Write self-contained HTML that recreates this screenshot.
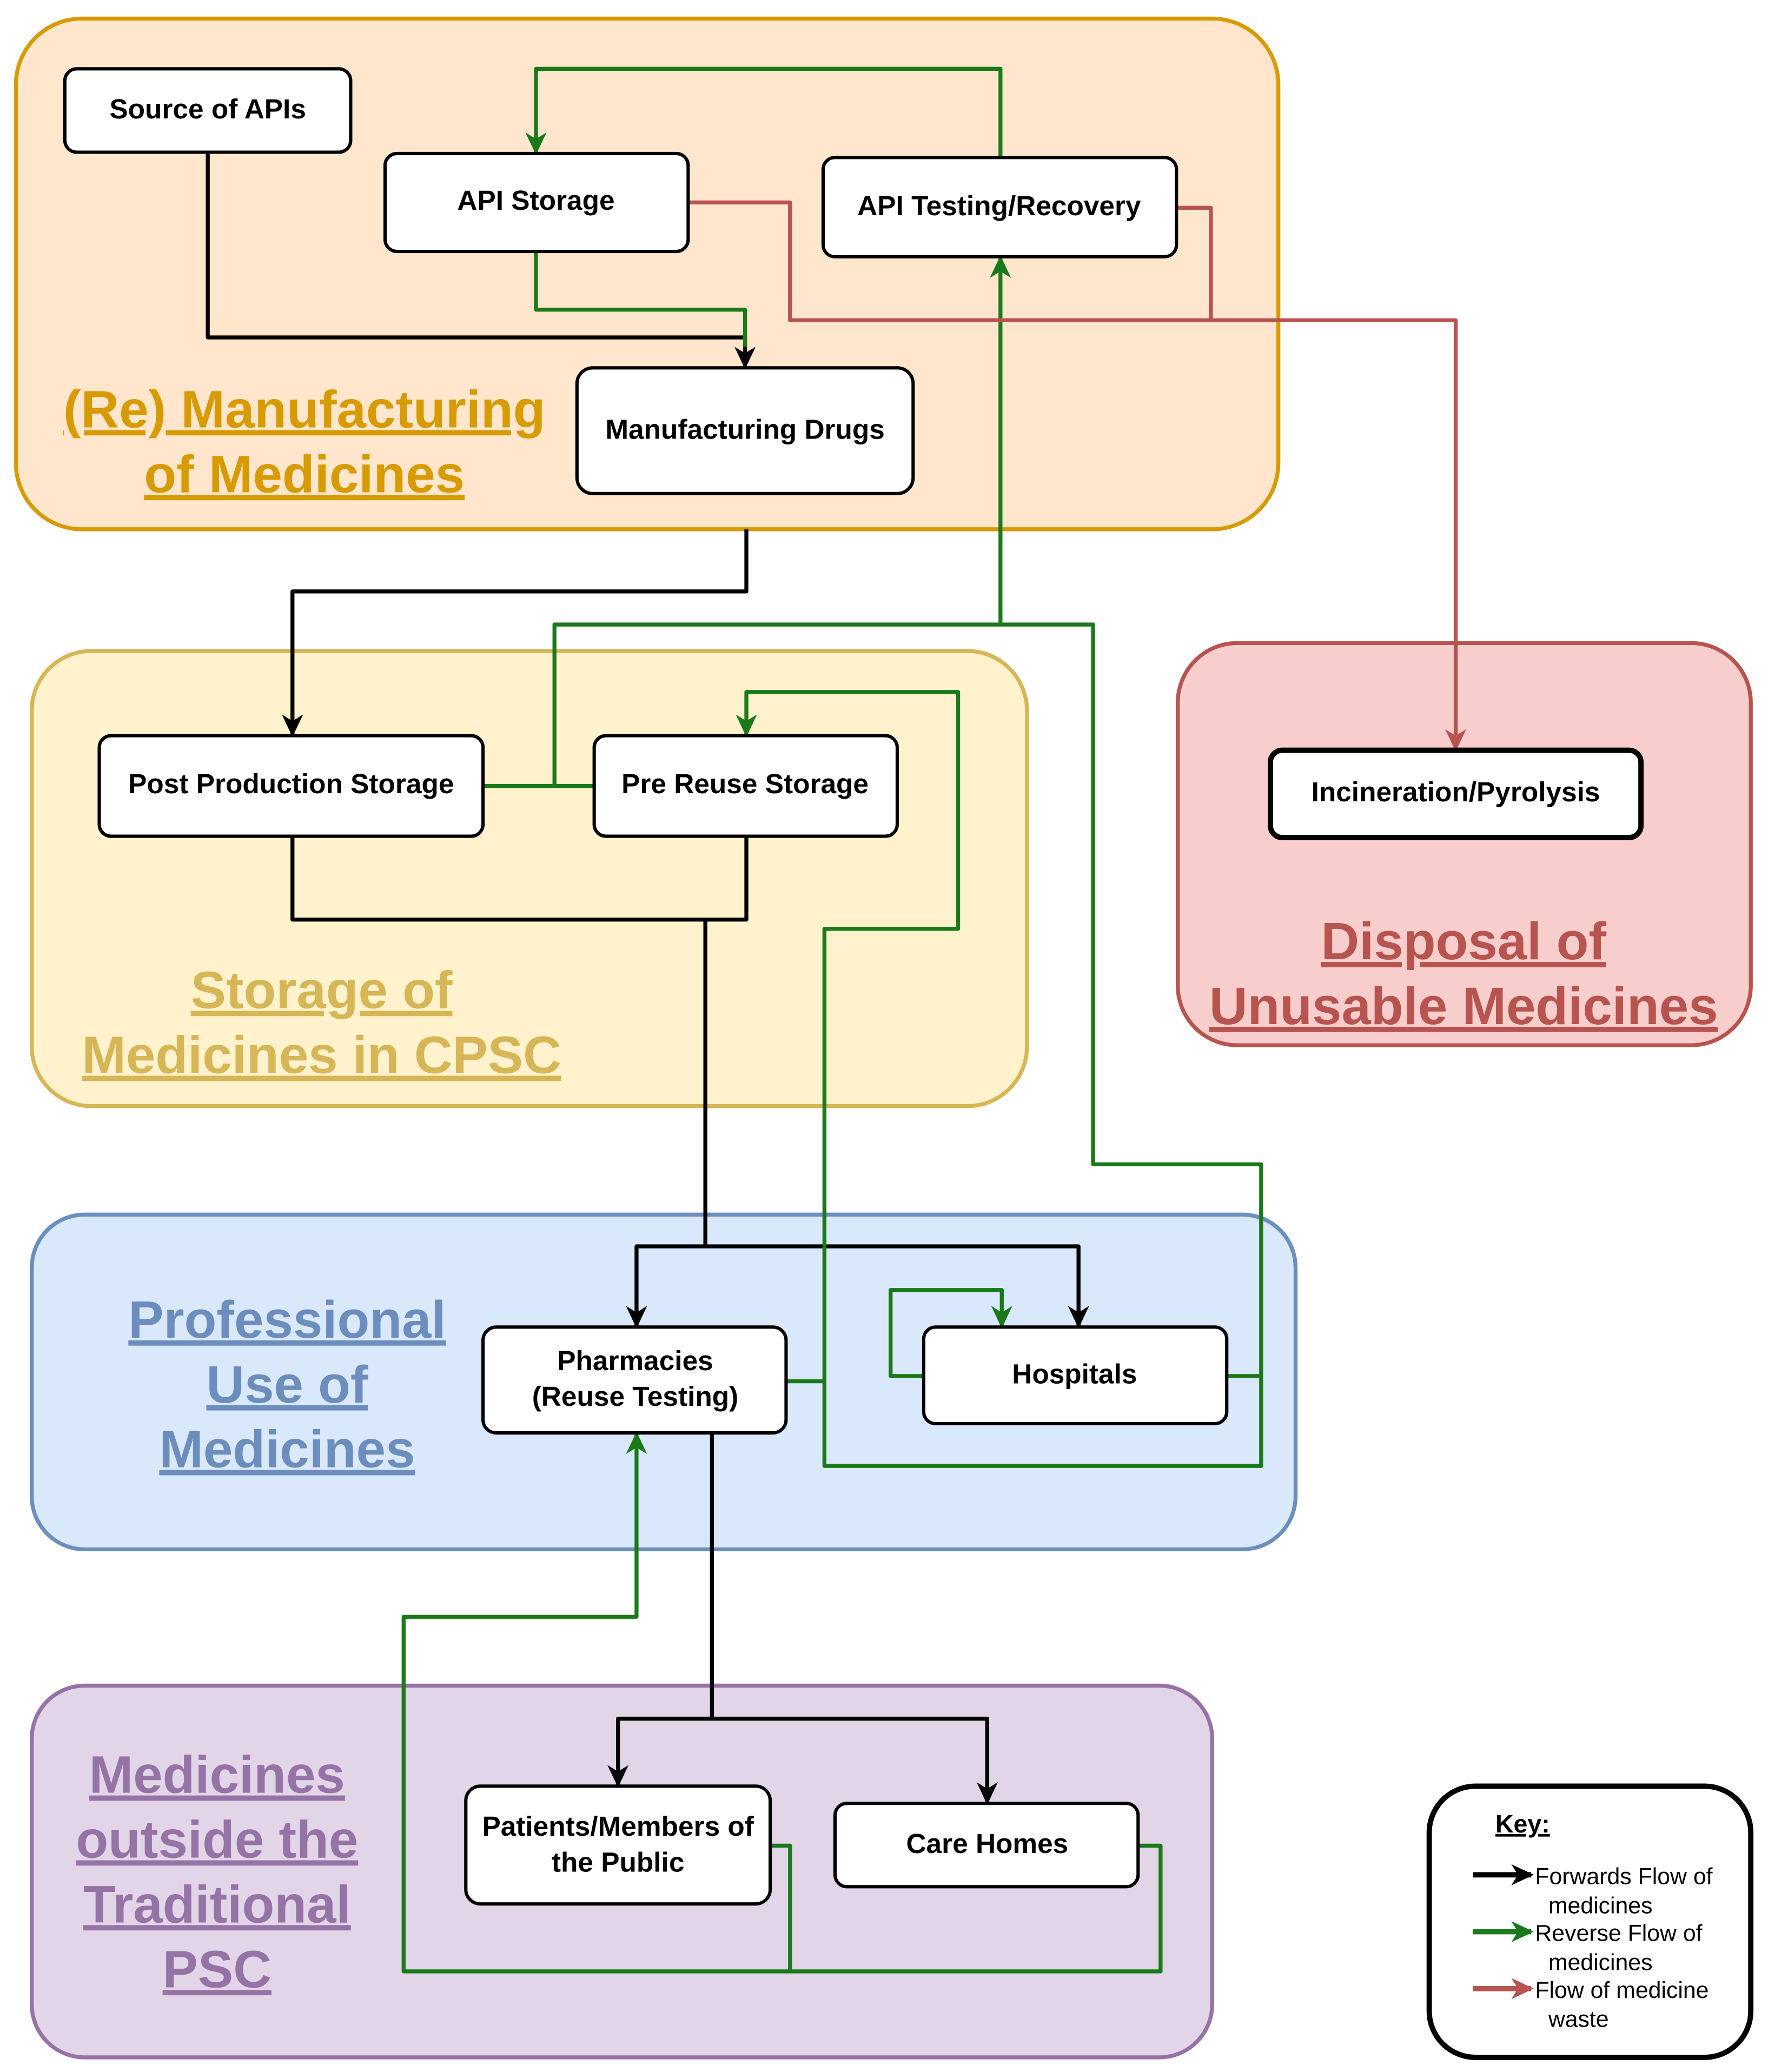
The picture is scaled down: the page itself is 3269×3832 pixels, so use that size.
<!DOCTYPE html>
<html><head><meta charset="utf-8"><style>
html,body{margin:0;padding:0;background:#fff}
svg{display:block}
text{font-family:"Liberation Sans",Arial,sans-serif}
.n{font-weight:bold;font-size:21px;text-anchor:middle;dominant-baseline:middle}
.t{font-weight:bold;font-size:40px;text-anchor:middle;text-decoration:underline}
.k{font-size:17.5px}
</style></head><body>
<svg width="3269" height="3832" viewBox="0 0 1336 1566" xmlns="http://www.w3.org/2000/svg">
<defs>
<marker id="ab" markerWidth="18" markerHeight="18" refX="15" refY="9" orient="auto" markerUnits="userSpaceOnUse" viewBox="0 0 18 18"><path d="M0,1 L17,9 L0,17 L5,9 z" fill="#000"/></marker>
<marker id="ag" markerWidth="18" markerHeight="18" refX="15" refY="9" orient="auto" markerUnits="userSpaceOnUse" viewBox="0 0 18 18"><path d="M0,1 L17,9 L0,17 L5,9 z" fill="#1a7a1a"/></marker>
<marker id="ar" markerWidth="18" markerHeight="18" refX="15" refY="9" orient="auto" markerUnits="userSpaceOnUse" viewBox="0 0 18 18"><path d="M0,1 L17,9 L0,17 L5,9 z" fill="#b85450"/></marker>
</defs>
<g stroke-width="3">
<rect x="12" y="14" width="954" height="386" rx="50" fill="#ffe6cc" stroke="#d79b00"/>
<rect x="24" y="492" width="752" height="344" rx="45" fill="#fff2cc" stroke="#d6b656"/>
<rect x="890" y="486" width="433" height="304" rx="45" fill="#f8cecc" stroke="#b85450"/>
<rect x="24" y="918" width="955" height="253" rx="40" fill="#dae8fc" stroke="#6c8ebf"/>
<rect x="24" y="1274" width="892" height="281" rx="40" fill="#e1d5e7" stroke="#9673a6"/>
<rect x="1080" y="1350" width="243" height="205" rx="35" fill="#fff" stroke="#000" stroke-width="4"/>
</g>
<text x="230" y="323" fill="#d79b00" class="t">(Re) Manufacturing</text>
<text x="230" y="372" fill="#d79b00" class="t">of Medicines</text>
<text x="243" y="762" fill="#d6b656" class="t">Storage of </text>
<text x="243" y="811" fill="#d6b656" class="t">Medicines in CPSC</text>
<text x="1106" y="725" fill="#b85450" class="t">Disposal of</text>
<text x="1106" y="774" fill="#b85450" class="t">Unusable Medicines</text>
<text x="217" y="1011" fill="#6c8ebf" class="t">Professional</text>
<text x="217" y="1060" fill="#6c8ebf" class="t">Use of</text>
<text x="217" y="1109" fill="#6c8ebf" class="t">Medicines</text>
<text x="164" y="1355" fill="#9673a6" class="t">Medicines</text>
<text x="164" y="1404" fill="#9673a6" class="t">outside the</text>
<text x="164" y="1453" fill="#9673a6" class="t">Traditional</text>
<text x="164" y="1502" fill="#9673a6" class="t">PSC</text>
<g fill="none" stroke-width="3" stroke-linejoin="round">
<path d="M157,115 V255 H563 V277" stroke="#000" marker-end="url(#ab)"/>
<path d="M405,190 V234 H563 V262" stroke="#1a7a1a"/>
<path d="M564,400 V447 H221 V555" stroke="#000" marker-end="url(#ab)"/>
<path d="M221,632 V695 H533 M564,632 V695 H533 V942 H481 V1002 M533,942 H815 V1002" stroke="#000"/>
<path d="M481,990 V1002" stroke="#000" marker-end="url(#ab)"/>
<path d="M815,990 V1002" stroke="#000" marker-end="url(#ab)"/>
<path d="M538,1083 V1299 H467 V1349 M538,1299 H746 V1362" stroke="#000"/>
<path d="M467,1335 V1349" stroke="#000" marker-end="url(#ab)"/>
<path d="M746,1348 V1362" stroke="#000" marker-end="url(#ab)"/>
<path d="M756,119 V52 H405 V115" stroke="#1a7a1a" marker-end="url(#ag)"/>
<path d="M365,594 H419 V472 H756 V195" stroke="#1a7a1a" marker-end="url(#ag)"/>
<path d="M449,594 H419" stroke="#1a7a1a"/>
<path d="M927,1040 H953 V880 H826 V472 H756" stroke="#1a7a1a"/>
<path d="M594,1044 H623 V702 H724 V523 H564 V555" stroke="#1a7a1a" marker-end="url(#ag)"/>
<path d="M623,1044 V1108 H953 V1040" stroke="#1a7a1a"/>
<path d="M698,1040 H673 V975 H757 V1002" stroke="#1a7a1a" marker-end="url(#ag)"/>
<path d="M860,1395 H877 V1490 H305 V1222 H481 V1084" stroke="#1a7a1a" marker-end="url(#ag)"/>
<path d="M582,1395 H597 V1490" stroke="#1a7a1a"/>
<path d="M520,153 H597 V242 H1100 V566" stroke="#b85450" marker-end="url(#ar)"/>
<path d="M889,157 H915 V242" stroke="#b85450"/>
<path d="M1113,1417 H1157" stroke="#000" stroke-width="4" marker-end="url(#ab)"/>
<path d="M1113,1460 H1157" stroke="#1a7a1a" stroke-width="4" marker-end="url(#ag)"/>
<path d="M1113,1503 H1157" stroke="#b85450" stroke-width="4" marker-end="url(#ar)"/>
</g>
<g fill="#fff" stroke="#000" stroke-width="2.5">
<rect x="49" y="52" width="216" height="63" rx="9"/>
<rect x="291" y="116" width="229" height="74" rx="9"/>
<rect x="622" y="119" width="267" height="75" rx="9"/>
<rect x="436" y="278" width="254" height="95" rx="12"/>
<rect x="75" y="556" width="290" height="76" rx="9"/>
<rect x="449" y="556" width="229" height="76" rx="9"/>
<rect x="960" y="567" width="280" height="66" rx="9" stroke-width="4"/>
<rect x="365" y="1003" width="229" height="80" rx="10"/>
<rect x="698" y="1003" width="229" height="73" rx="9"/>
<rect x="352" y="1350" width="230" height="89" rx="11"/>
<rect x="631" y="1363" width="229" height="63" rx="9"/>
</g>
<text x="157" y="84" class="n">Source of APIs</text>
<text x="405" y="153" class="n">API Storage</text>
<text x="755" y="157" class="n">API Testing/Recovery</text>
<text x="563" y="326" class="n">Manufacturing Drugs</text>
<text x="220" y="594" class="n">Post Production Storage</text>
<text x="563" y="594" class="n">Pre Reuse Storage</text>
<text x="1100" y="600" class="n">Incineration/Pyrolysis</text>
<text x="480" y="1030" class="n">Pharmacies</text>
<text x="480" y="1057" class="n">(Reuse Testing)</text>
<text x="812" y="1040" class="n">Hospitals</text>
<text x="467" y="1382" class="n">Patients/Members of</text>
<text x="467" y="1409" class="n">the Public</text>
<text x="746" y="1395" class="n">Care Homes</text>
<text x="1130" y="1385" font-weight="bold" font-size="19" text-decoration="underline">Key:</text>
<text x="1160" y="1424" class="k">Forwards Flow of</text>
<text x="1170" y="1446" class="k">medicines</text>
<text x="1160" y="1467" class="k">Reverse Flow of</text>
<text x="1170" y="1489" class="k">medicines</text>
<text x="1160" y="1510" class="k">Flow of medicine</text>
<text x="1170" y="1532" class="k">waste</text>
</svg>
</body></html>
